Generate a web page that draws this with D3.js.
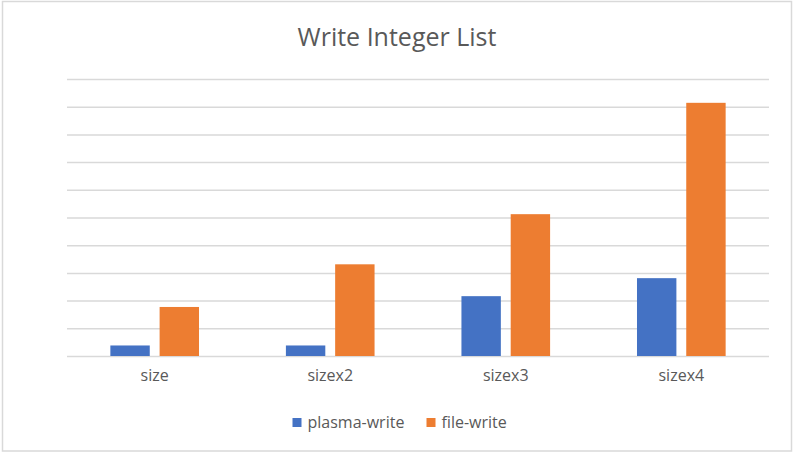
<!DOCTYPE html>
<html>
<head>
<meta charset="utf-8">
<script src="https://cdn.jsdelivr.net/npm/d3@7"></script>
<style>
  body { margin: 0; background: #fff; }
  text { font-family: "Open Sans", sans-serif; fill: #595959; }
</style>
</head>
<body>
<div id="vis1"></div>
<script>
// chart data (in gridline units)
const CATEGORIES = ["size", "sizex2", "sizex3", "sizex4"];
const SERIES = ["plasma-write", "file-write"];
const PLASMA_WRITE = [0.38, 0.38, 2.16, 2.81];
const FILE_WRITE = [1.77, 3.31, 5.12, 9.14];
const Y_TICKS = [0, 1, 2, 3, 4, 5, 6, 7, 8, 9, 10];
const COLORS = ["#4472c4", "#ed7d31"];

const FRAME_WIDTH = 795;
const FRAME_HEIGHT = 454;
const MARGINS = {left: 67, right: 26, top: 79, bottom: 98};
const VIS_WIDTH = FRAME_WIDTH - MARGINS.left - MARGINS.right;
const VIS_HEIGHT = FRAME_HEIGHT - MARGINS.top - MARGINS.bottom;

const FRAME1 = d3.select("#vis1")
                 .append("svg")
                 .attr("width", FRAME_WIDTH)
                 .attr("height", FRAME_HEIGHT);

// outer border
FRAME1.append("rect")
      .attr("x", 2.5).attr("y", 1.5)
      .attr("width", 789).attr("height", 449.5)
      .attr("fill", "#fff")
      .attr("stroke", "#d9d9d9")
      .attr("stroke-width", 1.5);

const X_SCALE = d3.scaleBand()
                  .domain(CATEGORIES)
                  .range([0, VIS_WIDTH])
                  .paddingInner(0.495)
                  .paddingOuter(0.247);

const X_INNER = d3.scaleBand()
                  .domain(SERIES)
                  .range([0, X_SCALE.bandwidth()])
                  .paddingInner(0.2);

const Y_SCALE = d3.scaleLinear()
                  .domain([0, 10])
                  .range([VIS_HEIGHT, 0]);

const G = FRAME1.append("g")
                .attr("transform", "translate(" + MARGINS.left + "," + MARGINS.top + ")");

// gridlines
G.append("g")
 .call(d3.axisLeft(Y_SCALE).tickValues(Y_TICKS).tickSize(-VIS_WIDTH).tickFormat(""))
 .call(g => g.select(".domain").remove())
 .call(g => g.selectAll("line").attr("stroke", "#d9d9d9").attr("stroke-width", 1.5));

// bars
const rows = CATEGORIES.map((c, i) => ({cat: c, vals: [PLASMA_WRITE[i], FILE_WRITE[i]]}));

G.selectAll(".grp")
 .data(rows)
 .enter()
 .append("g")
 .attr("transform", d => "translate(" + X_SCALE(d.cat) + ",0)")
 .selectAll("rect")
 .data(d => d.vals.map((v, j) => ({s: SERIES[j], v: v, j: j})))
 .enter()
 .append("rect")
 .attr("x", d => X_INNER(d.s))
 .attr("y", d => Y_SCALE(d.v))
 .attr("width", X_INNER.bandwidth())
 .attr("height", d => VIS_HEIGHT - Y_SCALE(d.v))
 .attr("fill", d => COLORS[d.j]);

// x axis labels
G.append("g")
 .attr("transform", "translate(0," + VIS_HEIGHT + ")")
 .call(d3.axisBottom(X_SCALE).tickSize(0).tickPadding(14))
 .call(g => g.select(".domain").remove())
 .call(g => g.selectAll("text")
             .attr("font-size", "16px")
             .style("font-family", "'Open Sans', sans-serif")
             .attr("fill", "#595959"));

// title
FRAME1.append("text")
      .attr("x", 397)
      .attr("y", 46)
      .attr("text-anchor", "middle")
      .attr("font-size", "25px")
      .text("Write Integer List");

// legend
const LEGEND_X = [292.5, 426.5];
const legend = FRAME1.selectAll(".legend")
                     .data(SERIES)
                     .enter()
                     .append("g")
                     .attr("transform", (d, i) => "translate(" + LEGEND_X[i] + ",418)");

legend.append("rect")
      .attr("width", 9).attr("height", 9)
      .attr("fill", (d, i) => COLORS[i]);

legend.append("text")
      .attr("x", 15)
      .attr("y", 9.5)
      .attr("font-size", "16px")
      .text(d => d);
</script>
</body>
</html>
